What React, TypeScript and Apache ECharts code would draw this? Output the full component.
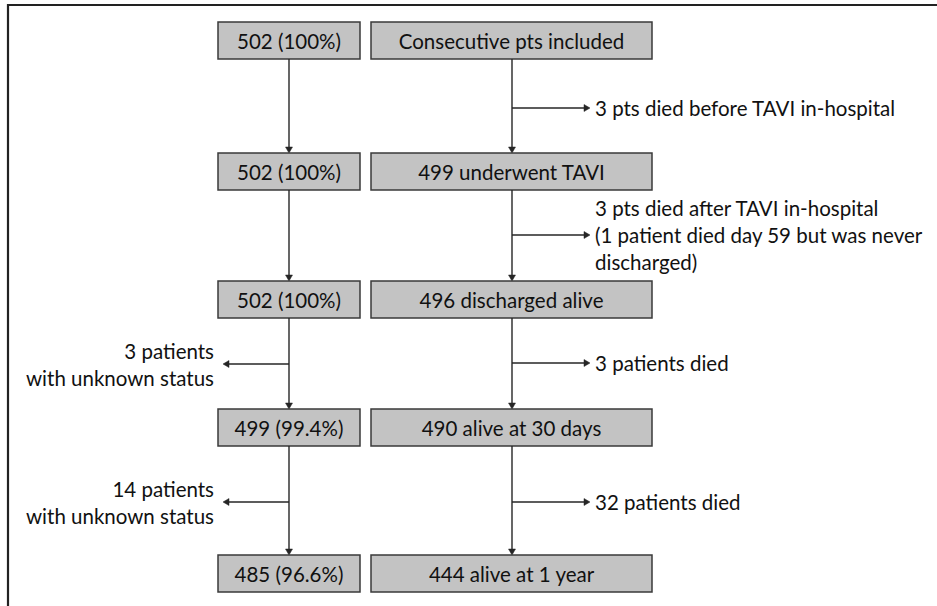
import React, { useEffect, useRef } from "react";
import * as echarts from "echarts";

// ---- content ----
const leftCounts = ["502 (100%)", "502 (100%)", "502 (100%)", "499 (99.4%)", "485 (96.6%)"];
const rightStages = [
  "Consecutive pts included",
  "499 underwent TAVI",
  "496 discharged alive",
  "490 alive at 30 days",
  "444 alive at 1 year",
];
// notes between row i and row i+1
const rightNotes: string[][] = [
  ["3 pts died before TAVI in-hospital"],
  ["3 pts died after TAVI in-hospital", "(1 patient died day 59 but was never", "discharged)"],
  ["3 patients died"],
  ["32 patients died"],
];
const leftNotes: (string[] | null)[] = [
  null,
  null,
  ["3 patients", "with unknown status"],
  ["14 patients", "with unknown status"],
];

// ---- layout (pixel space of the 937x606 canvas) ----
const W = 937;
const H = 606;
const rowTop = [22, 153, 281, 409, 555];
const boxH = 37;
const leftBox = [218, 360];
const rightBox = [371, 652];
const leftLineX = 289;
const rightLineX = 512;
const rightArrowY = [108, 235, 363, 502];
const rightArrowTip = 590;
const rightTextX = 595;
const rightNoteLineGap = 27;
const leftArrowY = [0, 0, 364, 502];
const leftArrowTip = 223;
const leftTextX = 214;

const FONT = 'Lato, "Open Sans", sans-serif';
const FS = 20.5;
const INK = "#111111";
const LINE = "#262626";
const BOX_FILL = "#c3c3c3";
const BOX_STROKE = "#3a3a3a";

function arrowHead(api: any, tipX: number, tipY: number, dir: "down" | "right" | "left") {
  const t = api.coord([tipX, tipY]);
  const L = 6;
  const hw = 3.5;
  let pts: number[][];
  if (dir === "down") pts = [[t[0], t[1]], [t[0] - hw, t[1] - L], [t[0] + hw, t[1] - L]];
  else if (dir === "right") pts = [[t[0], t[1]], [t[0] - L, t[1] - hw], [t[0] - L, t[1] + hw]];
  else pts = [[t[0], t[1]], [t[0] + L, t[1] - hw], [t[0] + L, t[1] + hw]];
  return { type: "polygon", shape: { points: pts }, style: { fill: LINE, stroke: LINE, lineWidth: 0.5 } };
}

function line(api: any, x1: number, y1: number, x2: number, y2: number) {
  const a = api.coord([x1, y1]);
  const b = api.coord([x2, y2]);
  return {
    type: "line",
    shape: { x1: a[0], y1: a[1], x2: b[0], y2: b[1] },
    style: { stroke: LINE, lineWidth: 1.4 },
  };
}

function text(api: any, s: string, x: number, y: number, align: string) {
  const p = api.coord([x, y]);
  return {
    type: "text",
    x: p[0],
    y: p[1],
    style: {
      text: s,
      fill: INK,
      font: `${FS}px ${FONT}`,
      align,
      verticalAlign: "middle",
    },
  };
}

function box(api: any, x0: number, x1: number, y0: number, y1: number) {
  const a = api.coord([x0, y0]);
  const b = api.coord([x1, y1]);
  return {
    type: "rect",
    shape: { x: a[0], y: a[1], width: b[0] - a[0], height: b[1] - a[1] },
    style: { fill: BOX_FILL, stroke: BOX_STROKE, lineWidth: 1.5 },
  };
}

function renderRow(params: any, api: any) {
  const i = api.value(0);
  const top = rowTop[i];
  const bottom = top + boxH;
  const mid = top + boxH / 2;
  const children: any[] = [];
  children.push(box(api, leftBox[0], leftBox[1], top, bottom));
  children.push(box(api, rightBox[0], rightBox[1], top, bottom));
  children.push(text(api, leftCounts[i], (leftBox[0] + leftBox[1]) / 2, mid, "center"));
  children.push(text(api, rightStages[i], (rightBox[0] + rightBox[1]) / 2, mid, "center"));
  if (i < rowTop.length - 1) {
    const nextTop = rowTop[i + 1];
    children.push(line(api, leftLineX, bottom, leftLineX, nextTop - 4));
    children.push(arrowHead(api, leftLineX, nextTop, "down"));
    children.push(line(api, rightLineX, bottom, rightLineX, nextTop - 4));
    children.push(arrowHead(api, rightLineX, nextTop, "down"));
    const rn = rightNotes[i];
    const ry = rightArrowY[i];
    children.push(line(api, rightLineX, ry, rightArrowTip - 4, ry));
    children.push(arrowHead(api, rightArrowTip, ry, "right"));
    const startY = rn.length === 3 ? ry - rightNoteLineGap : ry;
    rn.forEach((s, k) => children.push(text(api, s, rightTextX, startY + k * rightNoteLineGap, "left")));
    const ln = leftNotes[i];
    if (ln) {
      const ly = leftArrowY[i];
      children.push(line(api, leftLineX, ly, leftArrowTip + 4, ly));
      children.push(arrowHead(api, leftArrowTip, ly, "left"));
      children.push(text(api, ln[0], leftTextX, ly - 13.5, "right"));
      children.push(text(api, ln[1], leftTextX, ly + 13.5, "right"));
    }
  }
  return { type: "group", children };
}

export default function App() {
  const ref = useRef<HTMLDivElement>(null);
  useEffect(() => {
    document.body.style.margin = "0";
    const chart = echarts.init(ref.current!, null, { renderer: "svg" });
    chart.setOption({
      animation: false,
      backgroundColor: "#ffffff",
      grid: { left: 0, right: 0, top: 0, bottom: 0 },
      xAxis: { type: "value", min: 0, max: W, show: false },
      yAxis: { type: "value", min: 0, max: H, inverse: true, show: false },
      graphic: [
        {
          type: "polyline",
          shape: { points: [[8, H], [8, 5], [W, 5]] },
          style: { stroke: "#222", lineWidth: 2.2, fill: "none" },
          silent: true,
        },
      ],
      series: [
        {
          type: "custom",
          renderItem: renderRow,
          data: rowTop.map((_, i) => [i]),
          clip: false,
          silent: true,
        },
      ],
    });
    return () => chart.dispose();
  }, []);
  return <div ref={ref} style={{ position: "absolute", left: 0, top: 0, width: W, height: H }} />;
}
